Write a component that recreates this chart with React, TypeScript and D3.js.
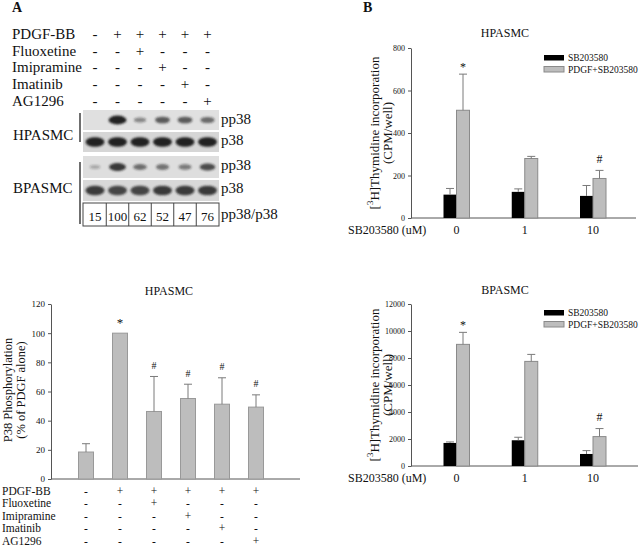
import { useEffect, useRef } from 'react';
import * as d3 from 'd3';

const W = 640;
const H = 547;
const SERIF = "'Liberation Serif', 'Times New Roman', serif";

// treatment table (shared by the blot and the phosphorylation chart)
const treatments = ['PDGF-BB', 'Fluoxetine', 'Imipramine', 'Imatinib', 'AG1296'];
const treatmentSigns = [
  ['-', '+', '+', '+', '+', '+'],
  ['-', '-', '+', '-', '-', '-'],
  ['-', '-', '-', '+', '-', '-'],
  ['-', '-', '-', '-', '+', '-'],
  ['-', '-', '-', '-', '-', '+'],
];
const lanes = ['L1', 'L2', 'L3', 'L4', 'L5', 'L6'];

// western blot band intensities (0..1) and densitometry ratios
const hpPP38Bands = [0, 1, 0.3, 0.6, 0.6, 0.5];
const hpP38Bands = [1, 1, 1, 1, 1, 1];
const bpPP38Bands = [0.06, 0.85, 0.45, 0.42, 0.38, 0.7];
const bpP38Bands = [0.85, 0.8, 0.8, 0.88, 0.85, 0.88];
const ratioValues = [15, 100, 62, 52, 47, 76];

// p38 phosphorylation (% of PDGF alone)
const phosphoMeans = [18.5, 100, 46.3, 55.2, 51.3, 49.3];
const phosphoErrors = [5.7, 0, 24, 9.8, 18.1, 8.4];
const phosphoMarks = ['', '*', '#', '#', '#', '#'];
const phosphoTicks = [0, 20, 40, 60, 80, 100, 120];

// thymidine incorporation
const doses = ['0', '1', '10'];
const seriesNames = ['SB203580', 'PDGF+SB203580'];
const doseMarks = ['*', '', '#'];
const hpSbMeans = [110, 123, 104];
const hpSbErrors = [29, 14, 49];
const hpPdgfMeans = [507, 280, 186];
const hpPdgfErrors = [170, 10, 38];
const hpTicks = [0, 200, 400, 600, 800];
const bpSbMeans = [1708, 1906, 891];
const bpSbErrors = [74, 223, 248];
const bpPdgfMeans = [9010, 7748, 2178];
const bpPdgfErrors = [890, 519, 594];
const bpTicks = [0, 2000, 4000, 6000, 8000, 10000, 12000];

const GRAY = '#bdbdbd';
const GRAY_EDGE = '#8a8a8a';
const AXIS = '#555';
const INK = '#111';

function styleAxis(g: any, fontSize: number) {
  g.attr('font-family', SERIF);
  g.select('.domain').attr('stroke', AXIS);
  g.selectAll('.tick line').attr('stroke', AXIS);
  g.selectAll('.tick text').attr('font-size', fontSize).attr('fill', INK);
}

function errorBar(g: any, cx: number, y0: number, y1: number) {
  if (Math.abs(y0 - y1) < 0.5) return;
  g.append('line').attr('x1', cx).attr('x2', cx).attr('y1', y0).attr('y2', y1)
    .attr('stroke', '#7a7a7a').attr('stroke-width', 1);
  g.append('line').attr('x1', cx - 4).attr('x2', cx + 4).attr('y1', y1).attr('y2', y1)
    .attr('stroke', '#7a7a7a').attr('stroke-width', 1);
}

function drawBlotPanel(svg: any) {
  const g = svg.append('g');
  g.append('text').attr('x', 12).attr('y', 12).attr('font-size', 14)
    .attr('font-weight', 'bold').text('A');

  const x = d3.scalePoint<string>().domain(lanes).range([95, 207.5]);
  const step = x.step();
  const rowY = d3.scalePoint<string>().domain(treatments).range([39, 105.7]);

  treatments.forEach((t, i) => {
    g.append('text').attr('x', 12).attr('y', rowY(t)).attr('font-size', 15).text(t);
    lanes.forEach((l, j) => {
      g.append('text').attr('x', x(l)).attr('y', rowY(t)).attr('text-anchor', 'middle')
        .attr('font-size', 15).text(treatmentSigns[i][j]);
    });
  });

  const defs = svg.append('defs');
  defs.append('filter').attr('id', 'bandBlur').attr('x', '-50%').attr('y', '-50%')
    .attr('width', '200%').attr('height', '200%')
    .append('feGaussianBlur').attr('stdDeviation', 1.3);

  const left = 83;
  const right = 219;
  const strips = [
    { bands: hpPP38Bands, y0: 110, y1: 130, thin: true, bg: '#e0e0e0', label: 'pp38', ly: 124 },
    { bands: hpP38Bands, y0: 132, y1: 152, thin: false, bg: '#d6d6d6', label: 'p38', ly: 145 },
    { bands: bpPP38Bands, y0: 156, y1: 178, thin: true, bg: '#dedede', label: 'pp38', ly: 170 },
    { bands: bpP38Bands, y0: 180, y1: 201, thin: false, bg: '#d8d8d8', label: 'p38', ly: 193 },
  ];
  strips.forEach((s) => {
    g.append('rect').attr('x', left).attr('y', s.y0).attr('width', right - left)
      .attr('height', s.y1 - s.y0).attr('fill', s.bg);
    const cy = (s.y0 + s.y1) / 2;
    const bg = g.append('g').attr('filter', 'url(#bandBlur)');
    s.bands.forEach((v, i) => {
      if (v <= 0) return;
      const rx = s.thin ? 5 + 4 * v : 9.5;
      const ry = s.thin ? 1.8 + 2.6 * v : 4.8;
      const op = s.thin ? 0.25 + 0.75 * v : v;
      bg.append('ellipse').attr('cx', x(lanes[i])).attr('cy', cy).attr('rx', rx).attr('ry', ry)
        .attr('fill', '#222').attr('opacity', op);
    });
    g.append('text').attr('x', right + 2).attr('y', s.ly).attr('font-size', 15).text(s.label);
  });

  // densitometry box
  g.append('rect').attr('x', left).attr('y', 203).attr('width', right - left).attr('height', 23)
    .attr('fill', 'none').attr('stroke', '#444').attr('stroke-width', 1);
  lanes.slice(0, -1).forEach((l) => {
    const dx = (x(l) as number) + step / 2;
    g.append('line').attr('x1', dx).attr('x2', dx).attr('y1', 203).attr('y2', 226)
      .attr('stroke', '#444').attr('stroke-width', 1);
  });
  lanes.forEach((l, i) => {
    g.append('text').attr('x', x(l)).attr('y', 221).attr('text-anchor', 'middle')
      .attr('font-size', 13).text(ratioValues[i]);
  });
  g.append('text').attr('x', right + 2).attr('y', 219).attr('font-size', 15).text('pp38/p38');

  // cell type brackets
  g.append('line').attr('x1', 80).attr('x2', 80).attr('y1', 113).attr('y2', 142)
    .attr('stroke', '#222').attr('stroke-width', 1.3);
  g.append('line').attr('x1', 80).attr('x2', 80).attr('y1', 162).attr('y2', 224)
    .attr('stroke', '#222').attr('stroke-width', 1.3);
  g.append('text').attr('x', 13).attr('y', 140).attr('font-size', 15).text('HPASMC');
  g.append('text').attr('x', 13).attr('y', 193).attr('font-size', 15).text('BPASMC');
}

function drawPhosphoChart(svg: any) {
  const g = svg.append('g');
  const y = d3.scaleLinear().domain([0, 120]).range([479, 304]);
  const x = d3.scalePoint<string>().domain(lanes).range([86, 256]);
  const barW = 15;

  g.append('text').attr('x', 169).attr('y', 295).attr('text-anchor', 'middle')
    .attr('font-size', 12).text('HPASMC');

  const ax = g.append('g').attr('transform', 'translate(51,0)')
    .call(d3.axisLeft(y).tickValues(phosphoTicks).tickFormat(d3.format('d'))
      .tickSize(3).tickSizeOuter(0).tickPadding(3));
  styleAxis(ax, 9);
  g.append('line').attr('x1', 51).attr('x2', 300).attr('y1', y(0)).attr('y2', y(0))
    .attr('stroke', AXIS);

  lanes.forEach((l, i) => {
    const cx = x(l) as number;
    const m = phosphoMeans[i];
    const top = y(m + phosphoErrors[i]);
    g.append('rect').attr('x', cx - barW / 2).attr('y', y(m)).attr('width', barW)
      .attr('height', y(0) - y(m)).attr('fill', GRAY).attr('stroke', '#999');
    errorBar(g, cx, y(m), top);
    const mark = phosphoMarks[i];
    if (mark) {
      g.append('text').attr('x', cx).attr('y', top - (mark === '*' ? 6 : 7.5))
        .attr('text-anchor', 'middle').attr('font-size', mark === '*' ? 13 : 10).text(mark);
    }
  });

  const yt = g.append('text').attr('transform', 'translate(0,390) rotate(-90)')
    .attr('text-anchor', 'middle').attr('dominant-baseline', 'central').attr('font-size', 12.5);
  yt.append('tspan').attr('x', 0).attr('y', 8).text('P38 Phosphorylation');
  yt.append('tspan').attr('x', 0).attr('y', 21).text('(% of PDGF alone)');

  const rowY = d3.scalePoint<string>().domain(treatments).range([495, 544.5]);
  treatments.forEach((t, i) => {
    g.append('text').attr('x', 2).attr('y', rowY(t)).attr('font-size', 11.5).text(t);
    lanes.forEach((l, j) => {
      g.append('text').attr('x', x(l)).attr('y', rowY(t)).attr('text-anchor', 'middle')
        .attr('font-size', 11.5).text(treatmentSigns[i][j]);
    });
  });
}

interface ThymidineOpts {
  title: string;
  titleY: number;
  domain: [number, number];
  range: [number, number];
  ticks: number[];
  sbMeans: number[];
  sbErrors: number[];
  pdgfMeans: number[];
  pdgfErrors: number[];
  legendY: number;
  labelY: number;
  axisEnd: number;
}

function drawThymidineChart(svg: any, o: ThymidineOpts) {
  const g = svg.append('g');
  const y = d3.scaleLinear().domain(o.domain).range(o.range);
  const x = d3.scalePoint<string>().domain(doses).range([456.5, 593]);
  const barW = 13;
  const axisX = 411;

  g.append('text').attr('x', 505).attr('y', o.titleY).attr('text-anchor', 'middle')
    .attr('font-size', 12).text(o.title);

  const ax = g.append('g').attr('transform', `translate(${axisX},0)`)
    .call(d3.axisLeft(y).tickValues(o.ticks).tickFormat(d3.format('d'))
      .tickSize(3).tickSizeOuter(0).tickPadding(3));
  styleAxis(ax, 8);
  g.append('line').attr('x1', axisX).attr('x2', o.axisEnd).attr('y1', y(0)).attr('y2', y(0))
    .attr('stroke', AXIS);

  doses.forEach((d, i) => {
    const cx = x(d) as number;
    const sb = o.sbMeans[i];
    const pd = o.pdgfMeans[i];
    g.append('rect').attr('x', cx - barW).attr('y', y(sb)).attr('width', barW)
      .attr('height', y(0) - y(sb)).attr('fill', '#000');
    errorBar(g, cx - barW / 2, y(sb), y(sb + o.sbErrors[i]));
    g.append('rect').attr('x', cx).attr('y', y(pd)).attr('width', barW)
      .attr('height', y(0) - y(pd)).attr('fill', GRAY).attr('stroke', GRAY_EDGE);
    const top = y(pd + o.pdgfErrors[i]);
    errorBar(g, cx + barW / 2, y(pd), top);
    const mark = doseMarks[i];
    if (mark) {
      g.append('text').attr('x', cx + barW / 2).attr('y', top - (mark === '*' ? 3 : 7.5))
        .attr('text-anchor', 'middle').attr('font-size', 12).text(mark);
    }
    g.append('text').attr('x', cx).attr('y', o.labelY).attr('text-anchor', 'middle')
      .attr('font-size', 12).text(d);
  });

  g.append('text').attr('x', 348).attr('y', o.labelY).attr('font-size', 12).text('SB203580 (uM)');

  // legend
  const colors = ['#000', GRAY];
  seriesNames.forEach((s, i) => {
    const ly = o.legendY + i * 11.5;
    g.append('rect').attr('x', 544).attr('y', ly).attr('width', 20).attr('height', 5.5)
      .attr('fill', colors[i]).attr('stroke', i === 0 ? 'none' : GRAY_EDGE);
    g.append('text').attr('x', 568).attr('y', ly + 6).attr('font-size', 9.5).text(s);
  });

  const cy = (o.range[0] + o.range[1]) / 2;
  const yt = g.append('text').attr('transform', `translate(0,${cy}) rotate(-90)`)
    .attr('text-anchor', 'middle').attr('dominant-baseline', 'central').attr('font-size', 13);
  const l1 = yt.append('tspan').attr('x', 0).attr('y', 374);
  l1.append('tspan').text('[');
  l1.append('tspan').attr('font-size', 9).attr('dy', -4).text('3');
  l1.append('tspan').attr('dy', 4).text('H]Thymidine incorporation');
  yt.append('tspan').attr('x', 0).attr('y', 387).text('(CPM/well)');
}

export default function App() {
  const svgRef = useRef<SVGSVGElement>(null);

  useEffect(() => {
    const svg = d3.select(svgRef.current);
    svg.selectAll('*').remove();
    svg.attr('font-family', SERIF).attr('fill', INK);

    drawBlotPanel(svg);
    drawPhosphoChart(svg);

    svg.append('text').attr('x', 363).attr('y', 12).attr('font-size', 14)
      .attr('font-weight', 'bold').text('B');

    drawThymidineChart(svg, {
      title: 'HPASMC', titleY: 37, domain: [0, 800], range: [218, 48], ticks: hpTicks,
      sbMeans: hpSbMeans, sbErrors: hpSbErrors, pdgfMeans: hpPdgfMeans, pdgfErrors: hpPdgfErrors,
      legendY: 55, labelY: 234, axisEnd: 636,
    });
    drawThymidineChart(svg, {
      title: 'BPASMC', titleY: 294, domain: [0, 12000], range: [466, 304], ticks: bpTicks,
      sbMeans: bpSbMeans, sbErrors: bpSbErrors, pdgfMeans: bpPdgfMeans, pdgfErrors: bpPdgfErrors,
      legendY: 310, labelY: 482, axisEnd: 638,
    });
  }, []);

  return (
    <svg
      ref={svgRef}
      width={W}
      height={H}
      viewBox={`0 0 ${W} ${H}`}
      style={{ position: 'absolute', left: 0, top: 0, background: '#fff' }}
    />
  );
}
